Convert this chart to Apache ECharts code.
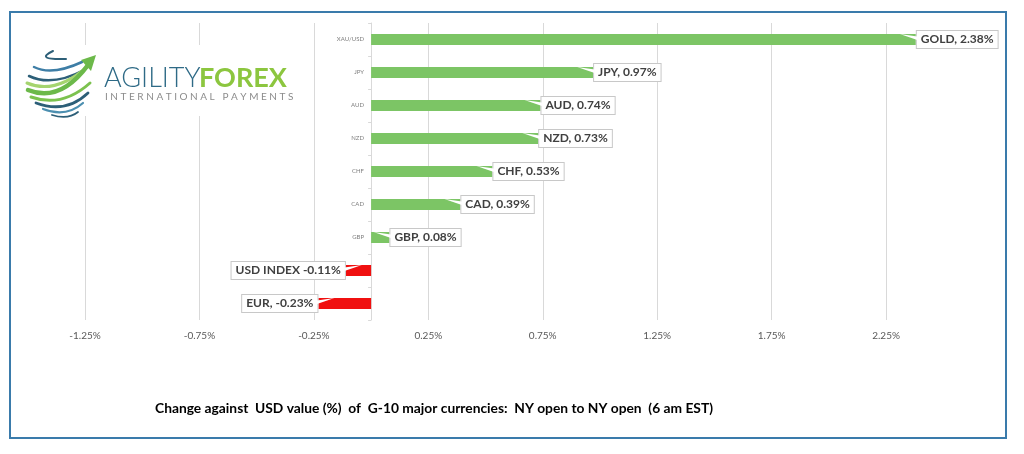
<!DOCTYPE html>
<html>
<head>
<meta charset="utf-8">
<script src="https://cdn.jsdelivr.net/npm/echarts@6/dist/echarts.min.js"></script>
<style>
html,body{margin:0;padding:0;background:#fff;}
#main{width:1024px;height:454px;}
</style>
</head>
<body>
<div id="main"></div>
<script>
const categories = ['XAU/USD','JPY','AUD','NZD','CHF','CAD','GBP','USD','EUR'];
const values = [2.38, 0.97, 0.74, 0.73, 0.53, 0.39, 0.08, -0.11, -0.23];
const labelTexts = ['GOLD, 2.38%','JPY, 0.97%','AUD, 0.74%','NZD, 0.73%','CHF, 0.53%','CAD, 0.39%','GBP, 0.08%','USD INDEX -0.11%','EUR, -0.23%'];
const tickLabels = ['-1.25%','-0.75%','-0.25%','0.25%','0.75%','1.25%','1.75%','2.25%',''];
const captionText = 'Change against  USD value (%)  of  G-10 major currencies:  NY open to NY open  (6 am EST)';

const GREEN = '#7cc565';
const RED = '#f01010';

const chart = echarts.init(document.getElementById('main'), null, {renderer:'canvas'});

const barData = values.map((v, i) => ({
  value: v,
  itemStyle: {color: v >= 0 ? GREEN : RED},
  label: {
    position: v >= 0 ? 'right' : 'left',
    formatter: labelTexts[i]
  }
}));

const wedgeData = values.map((v, i) => [v, i]);

function stripe(x1, y1, cx, cy, x2, y2, color, w) {
  return {type:'bezierCurve', shape:{x1:x1,y1:y1,cpx1:cx,cpy1:cy,x2:x2,y2:y2}, style:{stroke:color,lineWidth:w,fill:null,lineCap:'round'}};
}

const logo = [
  {type:'rect', shape:{x:18,y:45,width:280,height:71}, style:{fill:'#ffffff', stroke:null}},
  stripe(53,51, 34,60, 66,59, '#2d5f78', 2),
  stripe(34,67, 52,76, 82,62, '#3e7ea6', 2.5),
  stripe(29,76, 52,87, 84,70, '#2d5f78', 2.5),
  stripe(27,83, 55,95, 87,67, '#a5d46f', 3),
  stripe(28,90, 60,103, 88,65, '#6cb94a', 4.5),
  stripe(31,97, 62,108, 90,83, '#7cc24f', 3),
  stripe(36,103, 66,114, 88,93, '#2d5f78', 2.8),
  stripe(43,109, 66,118, 83,103, '#4c8fb0', 2.2),
  stripe(52,115, 68,120, 78,112, '#2d5f78', 1.8),
  {type:'polygon', shape:{points:[[96,55],[81,60],[91,71]]}, style:{fill:'#6cb94a'}},
  {type:'text', left:104, top:65, style:{text:'AGILITY', font:'300 27px Lato', fill:'#2e6a86'}},
  {type:'text', left:199, top:65, style:{text:'FOREX', font:'bold 27px Lato', fill:'#8cc63f'}},
  {type:'text', left:105, top:92, style:{text:'I N T E R N A T I O N A L   P A Y M E N T S', font:'10px Lato', fill:'#8c8c8c'}}
];

const option = {
  animation: false,
  backgroundColor: '#ffffff',
  grid: {left: 85, right: 23.5, top: 23, bottom: 134, containLabel: false},
  xAxis: {
    type: 'value',
    min: -1.25, max: 2.75, interval: 0.5,
    axisLine: {show: false},
    axisTick: {show: false},
    axisLabel: {
      color: '#595959', fontSize: 10, fontFamily: 'Lato', margin: 11,
      formatter: (v) => tickLabels[Math.round((v + 1.25) / 0.5)] || ''
    },
    splitLine: {show: true, lineStyle: {color: ['#d9d9d9','#d9d9d9','#d9d9d9','#d9d9d9','#d9d9d9','#d9d9d9','#d9d9d9','#d9d9d9','rgba(0,0,0,0)'], width: 1}}
  },
  yAxis: {
    type: 'category',
    inverse: true,
    data: categories,
    axisLine: {show: true, onZero: true, lineStyle: {color: '#d9d9d9'}},
    axisTick: {show: true, length: 3, lineStyle: {color: '#d9d9d9'}},
    axisLabel: {color: '#7f7f7f', fontSize: 6, fontFamily: 'Lato', margin: -279}
  },
  series: [
    {
      type: 'bar',
      data: barData,
      barWidth: 11,
      z: 2,
      label: {
        show: true,
        distance: 1,
        fontFamily: 'Lato', fontWeight: 'bold', fontSize: 12, color: '#404040',
        backgroundColor: '#ffffff', borderColor: '#c8c8c8', borderWidth: 1,
        padding: [3, 4, 2, 4]
      }
    },
    {
      type: 'custom',
      z: 3,
      silent: true,
      data: wedgeData,
      renderItem: function (params, api) {
        const v = api.value(0);
        const p = api.coord([v, api.value(1)]);
        const s = v >= 0 ? 1 : -1;
        const x0 = p[0] + s * 1.5;
        return {
          type: 'polygon',
          shape: {points: [[x0, p[1] - 3], [p[0] - s * 16, p[1] - 5.5], [x0, p[1] + 0.5]]},
          style: {fill: '#ffffff', stroke: null}
        };
      }
    }
  ],
  graphic: [
    {type:'rect', shape:{x:10,y:12,width:996,height:426}, style:{fill:null, stroke:'#3a7bab', lineWidth:2}, z:100},
    {type:'text', left:155, top:402, style:{text:captionText, font:'bold 13.8px Lato', fill:'#000000'}, z:100},
    {type:'group', z: 50, children: logo.map(e => Object.assign({z:50}, e))}
  ]
};

chart.setOption(option);
</script>
</body>
</html>
